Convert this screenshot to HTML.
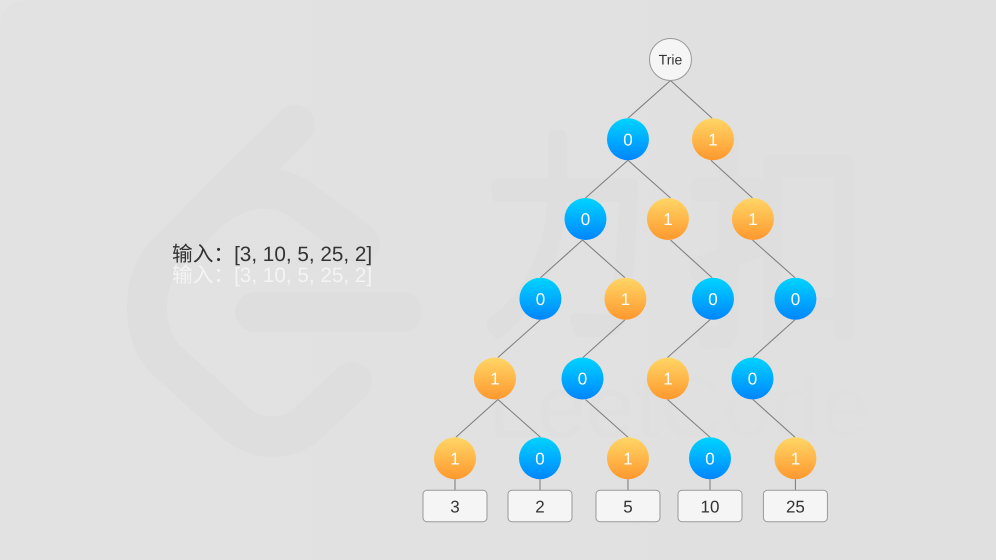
<!DOCTYPE html>
<html lang="zh">
<head>
<meta charset="utf-8">
<title>Trie</title>
<style>
html,body{margin:0;padding:0;width:996px;height:560px;overflow:hidden;background:#e0e0e0;}
svg{display:block;}
text{font-family:"Liberation Sans","Noto Sans CJK SC",sans-serif;text-rendering:geometricPrecision;}
</style>
</head>
<body>
<svg id="chart" xmlns="http://www.w3.org/2000/svg" width="996" height="560" viewBox="0 0 996 560">
  <defs>
    <linearGradient id="blue" x1="0" y1="0" x2="0" y2="1"><stop offset="0" stop-color="#00d4ff"/><stop offset="1" stop-color="#0085ff"/></linearGradient>
    <linearGradient id="orange" x1="0" y1="0" x2="0" y2="1"><stop offset="0" stop-color="#ffd666"/><stop offset="1" stop-color="#ff982e"/></linearGradient>
    <linearGradient id="bg" x1="0" y1="0" x2="1" y2="0"><stop offset="0" stop-color="#e2e2e2"/><stop offset="0.45" stop-color="#e1e1e1"/><stop offset="1" stop-color="#e0e0e0"/></linearGradient>
  </defs>
  <rect width="996" height="560" fill="url(#bg)"/>
  <path d="M0 30Q0 0 30 0L0 0Z" fill="#e4e4e4"/>
  <g fill="none" stroke="#dedede" stroke-width="40" stroke-linecap="round" stroke-linejoin="round">
    <path d="M295 125L165 255C141 280 141 335 165 359L238 425C258 440 282 440 303 428L352 382"/>
    <path d="M205 215C235 185 278 180 305 203L360 243"/>
    <path d="M255 312H402"/>
  </g>
  <g fill="#dedede" stroke="#dedede" stroke-linejoin="round">
    <text transform="translate(482 316) scale(0.78 1)" font-size="215" font-weight="300" stroke-width="13" style="font-family:'Noto Sans CJK SC',sans-serif">力</text>
    <text transform="translate(687 326) scale(0.83 1)" font-size="220" font-weight="300" stroke-width="13" style="font-family:'Noto Sans CJK SC',sans-serif">扣</text>
    <text x="488" y="437" font-size="88" stroke-width="0" fill="#dfdfdf">LeetCode</text>
  </g>
  <text x="172" y="261" font-size="20.7" fill="#333333" xml:space="preserve">输入：[3, 10, 5, 25, 2]</text>
  <text x="172" y="282" font-size="20.7" fill="#f4f4f4" xml:space="preserve">输入：[3, 10, 5, 25, 2]</text>
  <g id="edges"></g>
  <g id="nodes"></g>
  <g id="leaves"></g>
</svg>
<script>
// Trie structure: label, depth, horizontal column, parent index
const nodeLabels  = ['Trie','0','1','0','1','1','0','1','0','0','1','0','1','0','1','0','1','0','1'];
const nodeDepths  = [0,1,1,2,2,2,3,3,3,3,4,4,4,4,5,5,5,5,5];
const nodeColumns = [5.07,4.07,6.07,3.07,5.01,7.01,2.01,4.01,6.07,8.01,0.94,3,5.01,7,0,2,4.07,6,8.01];
const nodeParents = [-1,0,0,1,1,2,3,3,4,5,6,7,8,9,10,10,11,12,13];
// Columns where a node's outgoing / incoming edges attach (slightly off the circle centres)
const edgeOutColumns = [5.07,4.07,6.02,3,5.07,7,2.01,4,6,8,1.01,3.07,5,7.01,0,2,4,6,8];
const edgeInColumns  = [5.07,4.07,6.05,3.07,5.07,7,2.01,4,6.05,8,1.01,3.01,5,7.01,0.02,2.01,4.07,6,8];
// Values stored at the leaves
const leafNodes  = [14,15,16,17,18];
const leafValues = [3,2,5,10,25];

const SVG_NS = 'http://www.w3.org/2000/svg';
const xAxis = function (col) { return 455 + 42.5 * col; };
const yAxis = function (depth) { return 59.5 + 79.75 * depth; };
const RADIUS = 21;

const edgeGroup = document.getElementById('edges');
const nodeGroup = document.getElementById('nodes');
const leafGroup = document.getElementById('leaves');

function make(tag, attrs, parent) {
  const el = document.createElementNS(SVG_NS, tag);
  Object.keys(attrs).forEach(function (k) { el.setAttribute(k, attrs[k]); });
  parent.appendChild(el);
  return el;
}

nodeLabels.forEach(function (label, i) {
  const p = nodeParents[i];
  if (p < 0) return;
  const line = make('line', {
    x1: xAxis(edgeOutColumns[p]), y1: yAxis(nodeDepths[p]) + RADIUS,
    x2: xAxis(edgeInColumns[i]), y2: yAxis(nodeDepths[i]) - RADIUS,
    stroke: '#808080', 'stroke-width': 1.1
  }, edgeGroup);
  
  
});

leafNodes.forEach(function (nodeIndex, i) {
  const cx = xAxis(nodeColumns[nodeIndex]);
  const cy = yAxis(nodeDepths[nodeIndex]);
  const stem = make('line', {
    x1: cx, y1: cy + RADIUS, x2: cx, y2: cy + 32,
    stroke: '#808080', 'stroke-width': 1.1
  }, leafGroup);
  
  
  const box = make('rect', {
    x: cx - 32, y: cy + 32, width: 64, height: 31.5, rx: 4,
    fill: '#f5f5f5', stroke: '#999999', 'stroke-width': 1
  }, leafGroup);
  
  
  const txt = make('text', {
    x: cx, y: cy + 54, 'text-anchor': 'middle', 'font-size': 17, fill: '#333333'
  }, leafGroup);
  
  
  txt.textContent = leafValues[i];
});

nodeLabels.forEach(function (label, i) {
  const cx = xAxis(nodeColumns[i]);
  const cy = yAxis(nodeDepths[i]);
  const isRoot = label === 'Trie';
  const fill = isRoot ? '#f5f5f5' : (label === '0' ? 'url(#blue)' : 'url(#orange)');
  const circle = make('circle', {
    cx: cx, cy: cy, r: RADIUS, fill: fill,
    stroke: isRoot ? '#999999' : 'none', 'stroke-width': 1
  }, nodeGroup);
  
  
  const txt = make('text', {
    x: cx, y: cy + (isRoot ? 5 : 6), 'text-anchor': 'middle',
    'font-size': isRoot ? 14 : 17, fill: isRoot ? '#333333' : '#ffffff'
  }, nodeGroup);
  
  
  txt.textContent = label;
});
</script>
</body>
</html>
